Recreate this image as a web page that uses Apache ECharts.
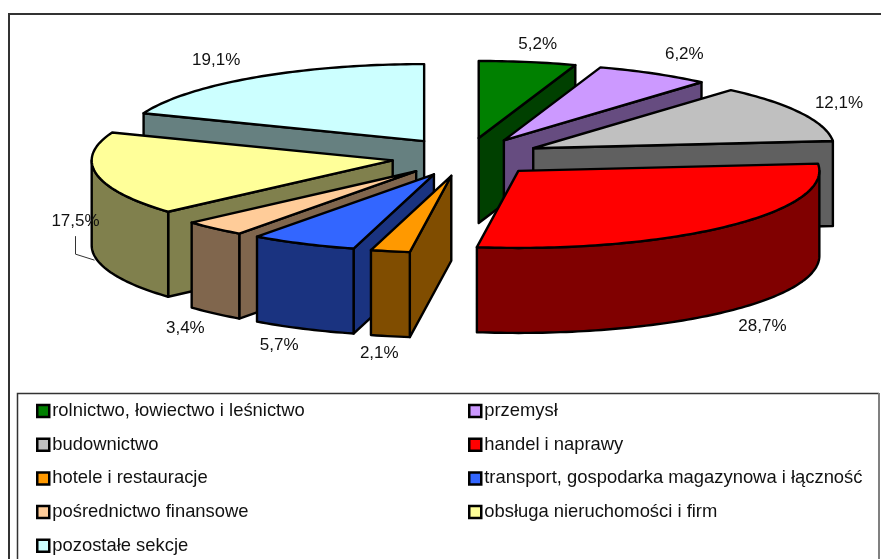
<!DOCTYPE html>
<html>
<head>
<meta charset="utf-8">
<style>html,body{margin:0;padding:0;background:#fff}#c{width:881px;height:559px}</style>
<script src="https://cdn.jsdelivr.net/npm/echarts@6/dist/echarts.min.js"></script>
</head>
<body>
<div id="c"></div>
<script>
// ---- data ----
const categories = ['rolnictwo, łowiectwo i leśnictwo','przemysł','budownictwo','handel i naprawy','hotele i restauracje','transport, gospodarka magazynowa i łączność','pośrednictwo finansowe','obsługa nieruchomości i firm','pozostałe sekcje'];
const values = [5.2,6.2,12.1,28.7,2.1,5.7,3.4,17.5,19.1];
const labels = ['5,2%','6,2%','12,1%','28,7%','2,1%','5,7%','3,4%','17,5%','19,1%'];
const topColors = ['#008000','#CC99FF','#C0C0C0','#FF0000','#FF9900','#3366FF','#FFCC99','#FFFF99','#CCFFFF'];
const sideColors = ['#004000','#664C80','#606060','#800000','#804D00','#1A3380','#80664D','#80804D','#668080'];
// label offsets from the slice's outer-arc midpoint
const labelDx = [10,30.5,38,36,-11,-24,-29,-21,-38];
const labelDy = [-18,-19,-10,100,102,102,100,47,-17];
// ---- 3D pie projection ----
const CX=466.5, CY=157, R=301, K=0.256, DEPTH=85, EXPLODE=75;
const total = values.reduce((a,b)=>a+b,0);
const starts=[]; let acc=0; values.forEach(v=>{starts.push(acc/total*2*Math.PI); acc+=v;});
const pt=(ax,ay,t,dz)=>[ax+R*Math.sin(t), ay-K*R*Math.cos(t)+(dz||0)];
function arc(ax,ay,t0,t1,dz){const n=Math.max(2,Math.ceil((t1-t0)/0.02));const o=[];for(let i=0;i<=n;i++)o.push(pt(ax,ay,t0+(t1-t0)*i/n,dz));return o;}
const strokeStyle=(fill)=>({fill,stroke:'#000',lineWidth:2.4,lineJoin:'round'});
function makeRender(idx){
  return function(params,api){
    const t0=starts[idx], t1=t0+api.value(0)/total*2*Math.PI, m=(t0+t1)/2;
    const ax=CX+EXPLODE*Math.sin(m), ay=CY-K*EXPLODE*Math.cos(m);
    const side=sideColors[idx], children=[];
    const poly=(points,fill)=>children.push({type:'polygon',shape:{points},style:strokeStyle(fill)});
    const PI=Math.PI;
    if(t1>0&&t1<PI){const e=pt(ax,ay,t1);poly([[ax,ay],e,[e[0],e[1]+DEPTH],[ax,ay+DEPTH]],side);}
    if(t0>PI&&t0<2*PI){const e=pt(ax,ay,t0);poly([[ax,ay],e,[e[0],e[1]+DEPTH],[ax,ay+DEPTH]],side);}
    const a=Math.max(t0,PI/2), b=Math.min(t1,3*PI/2);
    if(b>a) poly(arc(ax,ay,a,b,0).concat(arc(ax,ay,a,b,DEPTH).reverse()),side);
    poly([[ax,ay]].concat(arc(ax,ay,t0,t1,0)),topColors[idx]);
    const lp=pt(ax,ay,m);
    const lx=lp[0]+labelDx[idx], ly=lp[1]+labelDy[idx];
    children.push({type:'text',style:{x:lx,y:ly,text:labels[idx],fill:'#111',font:'17px "Liberation Sans", Arial, sans-serif',align:'center',verticalAlign:'middle'}});
    if(idx===7){
      children.push({type:'polyline',shape:{points:[[lx,ly+15],[lx,ly+33],[lx+19,ly+39]]},style:{fill:null,stroke:'#333',lineWidth:1}});
    }
    return {type:'group',children};
  };
}
const order=values.map((_,i)=>i).sort((i,j)=>{
  const mi=starts[i]+values[i]/total*Math.PI, mj=starts[j]+values[j]/total*Math.PI;
  return -Math.cos(mi)+Math.cos(mj);
});
const series=order.map(i=>({
  type:'custom',name:categories[i],coordinateSystem:'none',silent:true,animation:false,
  itemStyle:{color:topColors[i]},
  renderItem:makeRender(i),data:[[values[i]]]
}));
const legendFor=(ids,left)=>({
  orient:'vertical',left,top:402,itemGap:15.7,itemWidth:12,itemHeight:12,icon:'rect',selectedMode:false,padding:0,
  textStyle:{fontFamily:'"Liberation Sans", Arial, sans-serif',fontSize:18.4,color:'#111',padding:[0,0,0,-2]},
  data:ids.map(i=>({name:categories[i],itemStyle:{color:topColors[i],borderColor:'#000',borderWidth:2.5}}))
});
const chart=echarts.init(document.getElementById('c'),null,{renderer:'canvas'});
chart.setOption({
  backgroundColor:'#fff',animation:false,
  legend:[legendFor([0,2,4,6,8],36),legendFor([1,3,5,7],468)],
  graphic:[
    {type:'polyline',silent:true,shape:{points:[[9,559],[9,14],[881,14]]},style:{fill:null,stroke:'#333',lineWidth:2}},
    {type:'polyline',silent:true,shape:{points:[[17.5,559],[17.5,393.5],[879,393.5]]},style:{fill:null,stroke:'#333',lineWidth:1.5}},
    {type:'polyline',silent:true,shape:{points:[[879,393],[879,559]]},style:{fill:null,stroke:'#808080',lineWidth:2}}
  ],
  series
});
</script>
</body>
</html>
